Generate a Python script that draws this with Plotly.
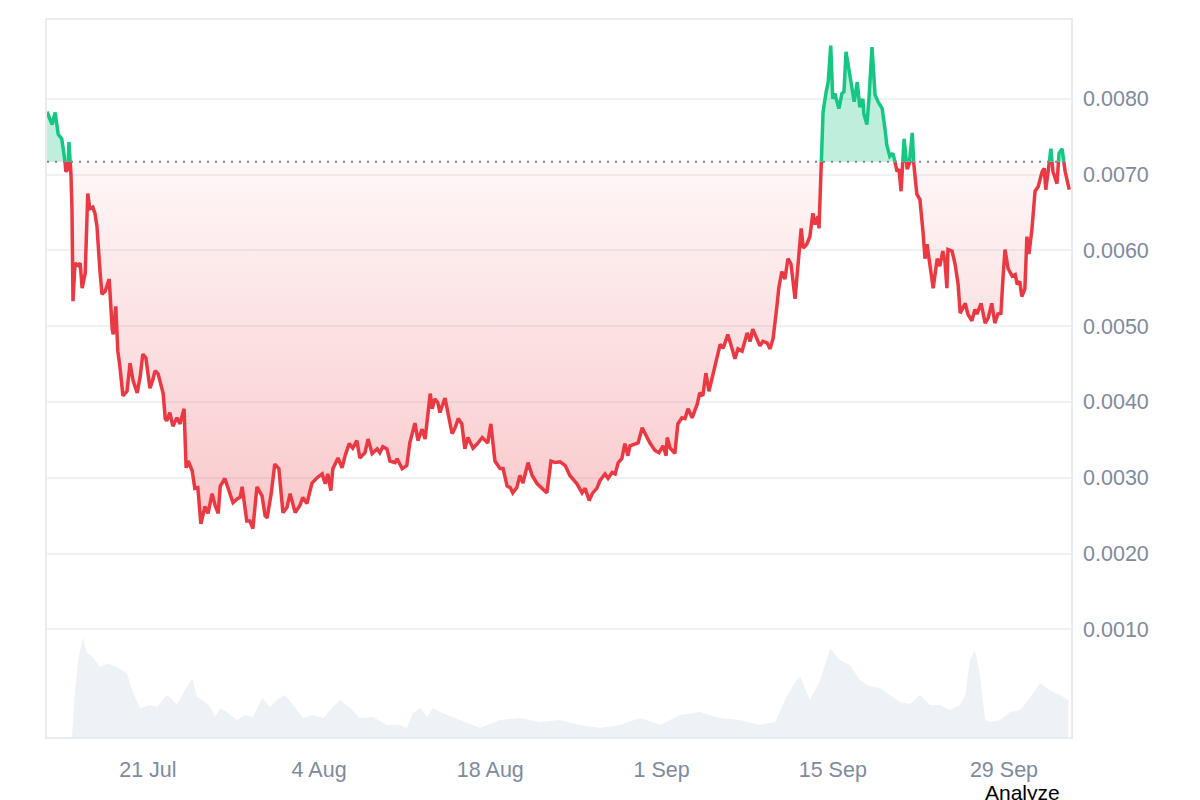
import numpy as np
import pandas as pd
import plotly.graph_objects as go

START = pd.Timestamp("2024-07-12 18:00")
BASELINE = 0.00717

# hours since START and price (USD)
price_hours = [0, 6, 10, 16, 22, 29, 35, 37, 41, 43, 47, 49, 51, 55, 61, 65, 69, 75, 80, 84, 90, 94, 98, 104, 108, 114, 118, 122, 128, 130, 135, 139, 143, 149, 157, 163, 169, 177, 183, 188, 194, 202, 208, 212, 218, 222, 228, 232, 235, 241, 247, 255, 261, 269, 273, 277, 285, 290, 296, 302, 310, 316, 324, 330, 336, 340, 349, 359, 365, 373, 379, 383, 392, 398, 404, 412, 422, 428, 432, 440, 447, 455, 463, 471, 477, 487, 496, 502, 510, 520, 530, 540, 546, 551, 557, 561, 571, 579, 585, 593, 600, 608, 614, 624, 630, 638, 648, 653, 659, 667, 673, 683, 687, 697, 706, 712, 722, 728, 736, 742, 752, 756, 761, 767, 771, 781, 787, 795, 801, 807, 814, 820, 826, 836, 846, 854, 860, 865, 871, 879, 889, 895, 903, 909, 914, 922, 928, 934, 944, 952, 962, 971, 981, 989, 997, 1007, 1017, 1026, 1034, 1040, 1050, 1056, 1064, 1071, 1079, 1085, 1095, 1101, 1109, 1115, 1121, 1128, 1134, 1140, 1144, 1154, 1160, 1168, 1177, 1183, 1193, 1201, 1209, 1215, 1217, 1223, 1232, 1238, 1246, 1252, 1258, 1266, 1276, 1281, 1287, 1293, 1299, 1305, 1311, 1317, 1321, 1327, 1331, 1336, 1344, 1350, 1356, 1364, 1374, 1380, 1385, 1393, 1399, 1405, 1413, 1419, 1425, 1433, 1436, 1442, 1448, 1454, 1460, 1468, 1474, 1480, 1484, 1491, 1497, 1503, 1507, 1513, 1515, 1523, 1529, 1533, 1538, 1542, 1546, 1550, 1554, 1560, 1564, 1568, 1572, 1580, 1584, 1590, 1595, 1601, 1603, 1609, 1613, 1619, 1625, 1631, 1639, 1645, 1648, 1654, 1660, 1664, 1668, 1672, 1676, 1682, 1688, 1692, 1698, 1701, 1707, 1713, 1719, 1723, 1727, 1733, 1739, 1747, 1752, 1758, 1762, 1766, 1768, 1776, 1782, 1788, 1792, 1802, 1807, 1815, 1821, 1825, 1833, 1841, 1847, 1854, 1860, 1866, 1872, 1876, 1880, 1886, 1894, 1900, 1904, 1909, 1913, 1919, 1923, 1927, 1933, 1939, 1945, 1953, 1957, 1960, 1966, 1970, 1974, 1982, 1986, 1992, 1998, 2006]
price = [0.00783, 0.00772, 0.00766, 0.00782, 0.00753, 0.00747, 0.00720, 0.00704, 0.00707, 0.00743, 0.00701, 0.00655, 0.00533, 0.00583, 0.00580, 0.00583, 0.00550, 0.00570, 0.00675, 0.00655, 0.00657, 0.00649, 0.00632, 0.00572, 0.00542, 0.00546, 0.00553, 0.00562, 0.00496, 0.00489, 0.00526, 0.00467, 0.00447, 0.00408, 0.00414, 0.00451, 0.00428, 0.00412, 0.00434, 0.00463, 0.00458, 0.00418, 0.00430, 0.00441, 0.00437, 0.00428, 0.00411, 0.00378, 0.00375, 0.00386, 0.00368, 0.00379, 0.00371, 0.00391, 0.00313, 0.00322, 0.00309, 0.00286, 0.00287, 0.00239, 0.00262, 0.00253, 0.00279, 0.00263, 0.00253, 0.00289, 0.00299, 0.00279, 0.00267, 0.00272, 0.00274, 0.00288, 0.00243, 0.00243, 0.00233, 0.00288, 0.00276, 0.00250, 0.00247, 0.00279, 0.00318, 0.00312, 0.00254, 0.00261, 0.00279, 0.00254, 0.00263, 0.00274, 0.00266, 0.00293, 0.00300, 0.00305, 0.00292, 0.00305, 0.00283, 0.00312, 0.00326, 0.00313, 0.00329, 0.00345, 0.00339, 0.00349, 0.00326, 0.00333, 0.00351, 0.00332, 0.00338, 0.00333, 0.00341, 0.00338, 0.00322, 0.00320, 0.00325, 0.00312, 0.00316, 0.00346, 0.00372, 0.00349, 0.00364, 0.00351, 0.00411, 0.00391, 0.00404, 0.00399, 0.00386, 0.00405, 0.00384, 0.00358, 0.00366, 0.00378, 0.00371, 0.00338, 0.00353, 0.00339, 0.00346, 0.00353, 0.00349, 0.00346, 0.00371, 0.00322, 0.00312, 0.00312, 0.00289, 0.00287, 0.00280, 0.00287, 0.00303, 0.00293, 0.00320, 0.00303, 0.00292, 0.00286, 0.00280, 0.00322, 0.00320, 0.00321, 0.00316, 0.00303, 0.00297, 0.00292, 0.00280, 0.00286, 0.00270, 0.00280, 0.00286, 0.00296, 0.00305, 0.00299, 0.00307, 0.00305, 0.00320, 0.00325, 0.00345, 0.00329, 0.00342, 0.00345, 0.00346, 0.00366, 0.00353, 0.00346, 0.00336, 0.00333, 0.00342, 0.00329, 0.00353, 0.00339, 0.00332, 0.00371, 0.00379, 0.00378, 0.00391, 0.00379, 0.00397, 0.00412, 0.00408, 0.00438, 0.00414, 0.00432, 0.00445, 0.00467, 0.00476, 0.00471, 0.00480, 0.00489, 0.00471, 0.00457, 0.00470, 0.00467, 0.00491, 0.00480, 0.00496, 0.00484, 0.00474, 0.00480, 0.00478, 0.00470, 0.00484, 0.00530, 0.00550, 0.00572, 0.00562, 0.00589, 0.00582, 0.00536, 0.00589, 0.00629, 0.00603, 0.00608, 0.00618, 0.00649, 0.00634, 0.00645, 0.00629, 0.00783, 0.00809, 0.00822, 0.00870, 0.00800, 0.00807, 0.00796, 0.00787, 0.00807, 0.00809, 0.00862, 0.00845, 0.00818, 0.00796, 0.00822, 0.00789, 0.00800, 0.00780, 0.00766, 0.00800, 0.00868, 0.00805, 0.00796, 0.00787, 0.00757, 0.00739, 0.00724, 0.00728, 0.00717, 0.00704, 0.00707, 0.00678, 0.00747, 0.00707, 0.00714, 0.00755, 0.00714, 0.00674, 0.00667, 0.00625, 0.00589, 0.00608, 0.00576, 0.00550, 0.00589, 0.00579, 0.00599, 0.00586, 0.00550, 0.00601, 0.00599, 0.00582, 0.00555, 0.00517, 0.00530, 0.00516, 0.00507, 0.00522, 0.00516, 0.00530, 0.00504, 0.00511, 0.00530, 0.00504, 0.00516, 0.00517, 0.00563, 0.00601, 0.00576, 0.00566, 0.00568, 0.00555, 0.00559, 0.00539, 0.00549, 0.00618, 0.00595, 0.00629, 0.00678, 0.00684, 0.00704, 0.00708, 0.00680, 0.00711, 0.00734, 0.00704, 0.00688, 0.00728, 0.00734, 0.00704, 0.00680]

# trading volume (relative units)
volume_hours = [49, 55, 61, 71, 78, 90, 104, 118, 137, 157, 169, 183, 202, 216, 235, 247, 255, 267, 285, 294, 306, 320, 330, 340, 353, 373, 389, 404, 422, 438, 451, 467, 483, 502, 522, 542, 561, 575, 595, 614, 640, 667, 693, 706, 718, 732, 746, 757, 771, 810, 850, 889, 928, 967, 1007, 1046, 1085, 1124, 1164, 1203, 1242, 1281, 1321, 1360, 1399, 1429, 1448, 1468, 1478, 1497, 1517, 1537, 1556, 1576, 1595, 1615, 1635, 1654, 1674, 1694, 1713, 1733, 1752, 1772, 1792, 1802, 1811, 1821, 1831, 1841, 1851, 1870, 1890, 1909, 1929, 1949, 1968, 1988, 2004]
volume = [0, 47, 77, 100, 85, 80, 70, 74, 70, 64, 44, 29, 32, 30, 42, 37, 32, 44, 59, 40, 37, 30, 20, 29, 25, 17, 22, 20, 39, 30, 37, 42, 32, 19, 22, 19, 30, 37, 29, 19, 20, 12, 12, 9, 24, 29, 20, 29, 25, 17, 9, 17, 19, 15, 17, 12, 9, 12, 19, 12, 22, 25, 19, 17, 12, 15, 37, 55, 61, 37, 57, 89, 77, 72, 57, 51, 49, 42, 35, 33, 42, 32, 32, 27, 32, 42, 77, 87, 62, 17, 15, 17, 25, 27, 39, 54, 47, 42, 37]

tick_dates = ["2024-07-21", "2024-08-04", "2024-08-18", "2024-09-01", "2024-09-15", "2024-09-29"]
tick_labels = ["21 Jul", "4 Aug", "18 Aug", "1 Sep", "15 Sep", "29 Sep"]
price_ticks = [0.001, 0.002, 0.003, 0.004, 0.005, 0.006, 0.007, 0.008]

GREEN = "#16c784"
RED = "#ea3943"
FONT = "Liberation Sans, Arial, sans-serif"

# insert baseline crossing points so colours switch exactly at the baseline
h = np.array(price_hours, dtype=float)
p = np.array(price, dtype=float)
hh, pp = [h[0]], [p[0]]
for i in range(1, len(h)):
    a, b = p[i - 1] - BASELINE, p[i] - BASELINE
    if a * b < 0:
        t = a / (a - b)
        hh.append(h[i - 1] + t * (h[i] - h[i - 1]))
        pp.append(BASELINE)
    hh.append(h[i])
    pp.append(p[i])
hh = np.array(hh)
pp = np.array(pp)
tt = START + pd.to_timedelta(hh, unit="h")

green_line = np.where(pp >= BASELINE, pp, np.nan)
red_line = np.where(pp <= BASELINE, pp, np.nan)
green_fill = np.maximum(pp, BASELINE)
red_fill = np.minimum(pp, BASELINE)
base_arr = np.full_like(pp, BASELINE)

vt = START + pd.to_timedelta(np.array(volume_hours, dtype=float), unit="h")

fig = go.Figure()
fig.add_trace(go.Scatter(x=vt, y=volume, yaxis="y2", mode="lines", line=dict(width=0, color="#eef1f5"),
                         fill="tozeroy", fillcolor="#eef1f5", hoverinfo="skip", showlegend=False))
fig.add_trace(go.Scatter(x=tt, y=base_arr, mode="lines", line=dict(width=0), hoverinfo="skip", showlegend=False))
fig.add_trace(go.Scatter(x=tt, y=red_fill, mode="lines", line=dict(width=0), fill="tonexty",
                         fillgradient=dict(type="vertical", start=BASELINE, stop=min(price),
                                           colorscale=[[0, "rgba(234,57,67,0.04)"], [1, "rgba(234,57,67,0.28)"]]),
                         hoverinfo="skip", showlegend=False))
fig.add_trace(go.Scatter(x=tt, y=base_arr, mode="lines", line=dict(width=0), hoverinfo="skip", showlegend=False))
fig.add_trace(go.Scatter(x=tt, y=green_fill, mode="lines", line=dict(width=0), fill="tonexty",
                         fillcolor="rgba(22,199,132,0.28)", hoverinfo="skip", showlegend=False))
fig.add_trace(go.Scatter(x=tt, y=red_line, mode="lines", line=dict(color=RED, width=3.5), connectgaps=False,
                         showlegend=False))
fig.add_trace(go.Scatter(x=tt, y=green_line, mode="lines", line=dict(color=GREEN, width=3.5), connectgaps=False,
                         showlegend=False))

fig.add_shape(type="line", xref="paper", x0=0, x1=1, yref="y", y0=BASELINE, y1=BASELINE,
              line=dict(color="#7d8593", width=2, dash="2px,6px"))

fig.add_annotation(text="Analyze", xref="paper", yref="paper", x=0.953, y=-0.058, xanchor="center", yanchor="top",
                   showarrow=False, font=dict(size=21, color="#000000", family=FONT))

x_end = START + pd.Timedelta(hours=2009.5)
fig.update_layout(
    width=1200, height=800,
    margin=dict(l=39, r=137, t=10, b=71),
    paper_bgcolor="white", plot_bgcolor="white",
    font=dict(family=FONT, color="#808a9d", size=21.5),
    xaxis=dict(range=[START, x_end], tickvals=pd.to_datetime(tick_dates), ticktext=tick_labels,
               showgrid=False, showline=True, linecolor="#e8ebef", linewidth=1.5, mirror=True,
               ticks="", ticklabelstandoff=12, zeroline=False),
    yaxis=dict(range=[-0.000421, 0.009039], side="right", tickvals=price_ticks, tickformat=".4f",
               showgrid=True, gridcolor="#eff2f5", gridwidth=1.5, showline=True, linecolor="#e8ebef",
               linewidth=1.5, mirror=True, ticks="", ticklabelstandoff=6, zeroline=False),
    yaxis2=dict(range=[0, 719], overlaying="y", visible=False),
    hovermode=False,
)

fig.write_html("out.html")
